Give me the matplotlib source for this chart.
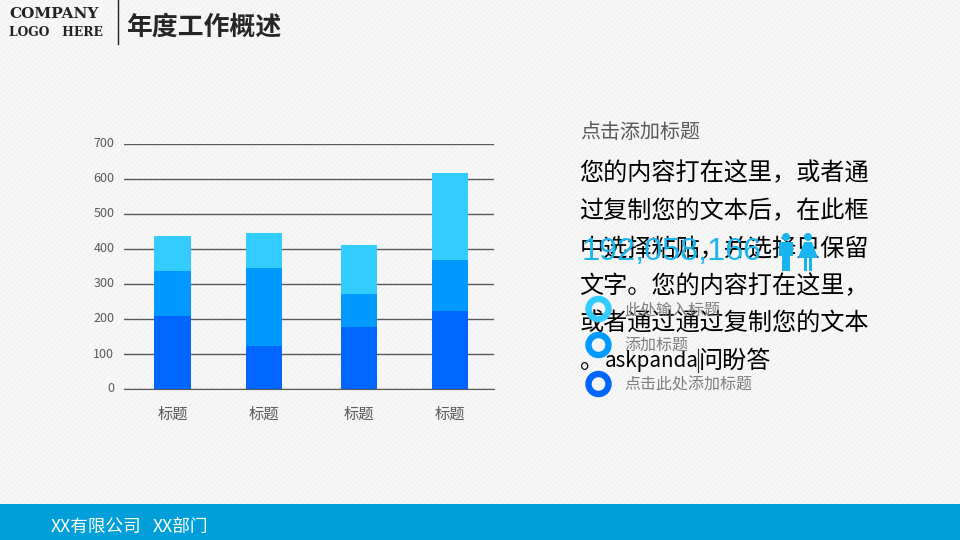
#stacked bar slide with text panel on the right
import matplotlib
matplotlib.use('Agg')
import matplotlib.pyplot as plt
from matplotlib.patches import Rectangle, Circle, Polygon
from matplotlib.transforms import ScaledTranslation

plt.rcParams['font.family'] = ['Noto Sans CJK SC', 'DejaVu Sans']
plt.rcParams['hatch.linewidth'] = 0.6

categories = ['标题', '标题', '标题', '标题']
x_pos = [0, 0.99, 2.02, 3]
series_1 = [210, 124, 178, 224]
series_2 = [128, 223, 92, 146]
series_3 = [100, 100, 142, 248]
y_ticks = [0, 100, 200, 300, 400, 500, 600, 700]

body_lines = ['您的内容打在这里，或者通', '过复制您的文本后，在此框', '中选择粘贴，并选择只保留',
              '文字。您的内容打在这里，', '或者通过通过复制您的文本']
list_labels = ['此处输入标题', '添加标题', '点击此处添加标题']
list_colors = ['#33ccff', '#0099ff', '#0066ff']

fig = plt.figure(figsize=(9.6, 5.4), dpi=100, facecolor='#f6f6f6')

# overlay in pixel coordinates for the slide decoration
bg = fig.add_axes([0, 0, 1, 1])
bg.set_xlim(0, 960)
bg.set_ylim(540, 0)
bg.axis('off')
bg.add_patch(Rectangle((0, 0), 960, 540, facecolor='#f7f7f7', edgecolor='#efefef', hatch='//////', lw=0))
bg.add_patch(Rectangle((0, 504), 960, 36, facecolor='#009fd9', lw=0))
bg.plot([117.5, 117.5], [0, 44], color='#222222', lw=1)
bg.text(9, 14, 'COMPANY', fontsize=11, fontweight='bold', family=['DejaVu Serif'], color='#222222', va='center')
bg.text(9, 32, 'LOGO   HERE', fontsize=8.8, fontweight='bold', family=['DejaVu Serif'], color='#222222', va='center')
bg.text(126, 27, '年度工作概述', fontsize=18.6, fontweight='bold', color='#262626', va='center')
bg.text(51, 527, 'XX有限公司', fontsize=12.7, color='white', va='center')
bg.text(153, 527, 'XX部门', fontsize=12.7, color='white', va='center')

# chart
ax = fig.add_axes([124 / 960, 1 - 389 / 540, 370 / 960, 245 / 540])
ax.patch.set_alpha(0)
bottom_2 = [a for a in series_1]
bottom_3 = [a + b for a, b in zip(series_1, series_2)]
ax.bar(x_pos, series_1, width=0.39, color='#0066ff', zorder=3)
ax.bar(x_pos, series_2, width=0.39, bottom=bottom_2, color='#0099ff', zorder=3)
ax.bar(x_pos, series_3, width=0.39, bottom=bottom_3, color='#33ccff', zorder=3)
ax.set_xlim(-0.525, 3.48)
ax.set_ylim(0, 700)
ax.set_yticks(y_ticks)
ax.set_xticks(x_pos, categories)
ax.grid(axis='y', color='#595959', lw=1, zorder=1)
ax.tick_params(axis='y', length=0, pad=7, labelsize=9, labelcolor='#595959')
ax.tick_params(axis='x', length=0, pad=12, labelsize=11, labelcolor='#595959')
# y labels sit a little above their gridlines
up = ScaledTranslation(0, 1.5 / 100, fig.dpi_scale_trans)
for label in ax.get_yticklabels():
    label.set_transform(label.get_transform() + up)
for s in ['top', 'left', 'right']:
    ax.spines[s].set_visible(False)
ax.spines['bottom'].set_color('#595959')

# right panel
fg = fig.add_axes([0, 0, 1, 1])
fg.set_xlim(0, 960)
fg.set_ylim(540, 0)
fg.axis('off')
fg.text(580, 133, '点击添加标题', fontsize=14.4, color='#595959', va='center')
line_y = [173, 211, 249, 286, 324]
for line, yy in zip(body_lines, line_y):
    fg.text(579.5, yy, line, fontsize=17.4, color='black', va='center')
fg.text(579.5, 361, '。', fontsize=17.4, color='black', va='center')
fg.text(605, 361, 'askpanda', fontsize=14.8, color='black', va='center')
fg.text(699, 361, '问盼答', fontsize=17.4, color='black', va='center')
fg.plot([698, 698], [349, 372], color='#222222', lw=0.8)
fg.text(581, 252, '192,058,166', fontsize=23.3, family=['Liberation Sans'], color='#1cb6ef', va='center', zorder=6)

# man and woman icons
icon = '#19b5f1'
fg.add_patch(Circle((786, 237), 4, color=icon, lw=0, zorder=6))
fg.add_patch(Rectangle((779, 242), 14, 14, color=icon, lw=0, zorder=6))
fg.add_patch(Rectangle((782, 254), 8, 17, color=icon, lw=0, zorder=6))
fg.add_patch(Circle((808, 237), 4, color=icon, lw=0, zorder=6))
fg.add_patch(Polygon([(804, 242), (812, 242), (818, 258), (798, 258)], color=icon, lw=0, zorder=6))
fg.add_patch(Rectangle((804, 256), 3, 15, color=icon, lw=0, zorder=6))
fg.add_patch(Rectangle((809, 256), 3, 15, color=icon, lw=0, zorder=6))

ring_y = [309, 345, 384]
for label, col, yy in zip(list_labels, list_colors, ring_y):
    fg.add_patch(Circle((598.5, yy), 10, facecolor='none', edgecolor=col, lw=4.6, zorder=6))
    fg.text(624, yy + 1, label, fontsize=11.5, color='#7f7f7f', va='center', zorder=6)

fig.savefig('out.png', dpi=100, facecolor=fig.get_facecolor())
